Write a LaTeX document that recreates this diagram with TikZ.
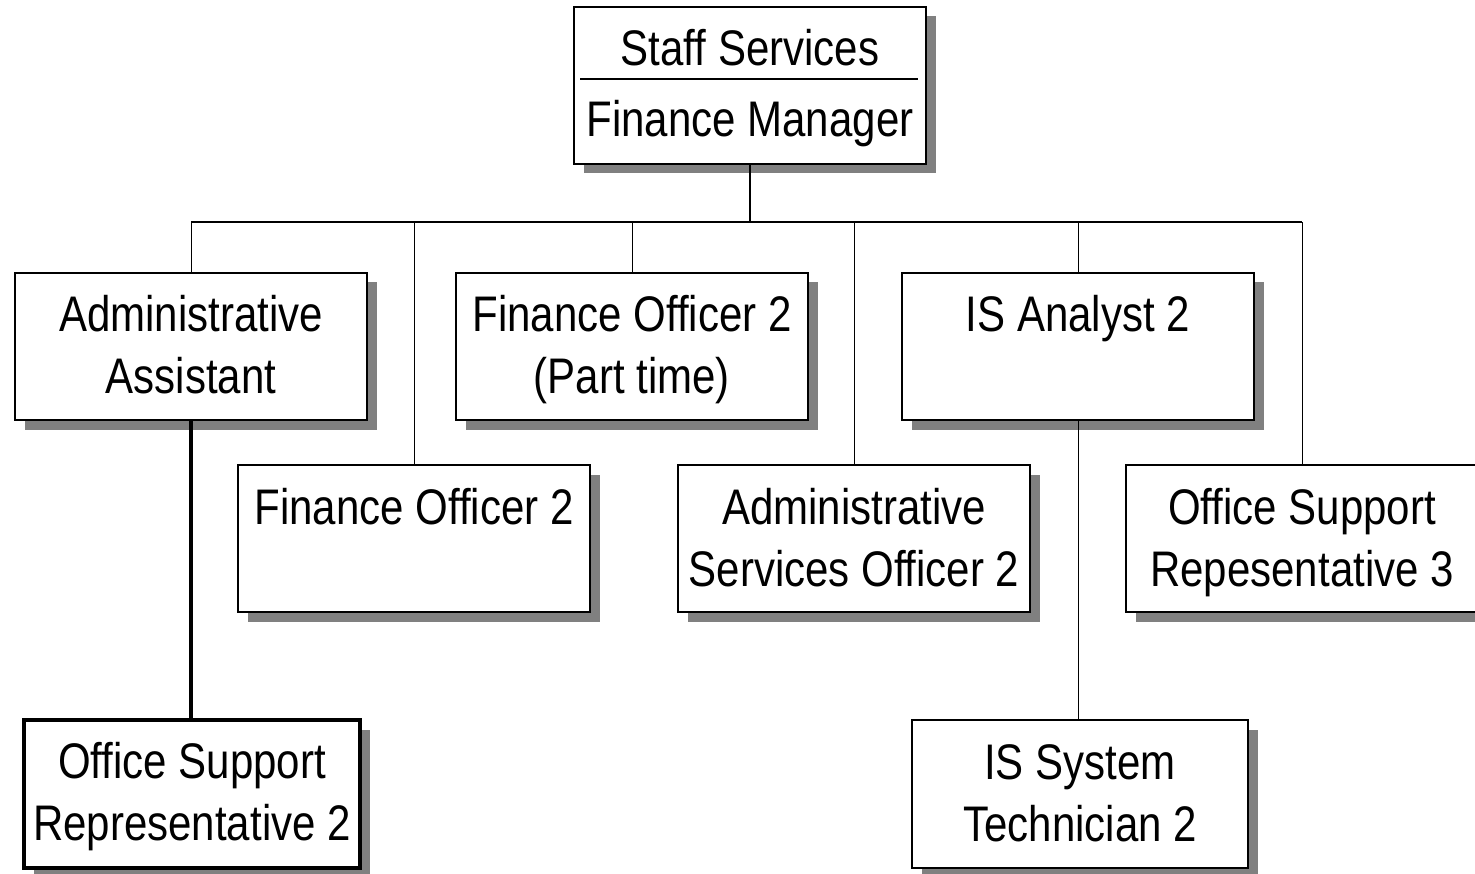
\documentclass[tikz,border=0pt]{standalone}
\usepackage{fontspec}
\setmainfont{Liberation Sans}[FakeStretch=0.84]
\usetikzlibrary{shadows}
\tikzset{
  box/.style={draw, line width=2pt, fill=white, rectangle, inner sep=0pt,
    minimum width=352pt, minimum height=147pt,
    drop shadow={shadow xshift=9.5pt, shadow yshift=-9.5pt, fill=black!50, opacity=1}},
  smallbox/.style={box, minimum width=336pt, minimum height=148pt},
  heavybox/.style={smallbox, line width=4pt},
  lbl/.style={anchor=base, inner sep=0pt, font=\fontsize{50pt}{60pt}\selectfont},
  stem/.style={line width=1.6pt},
  drop/.style={line width=1pt},
  heavy/.style={line width=4.5pt}
}
\begin{document}
\begin{tikzpicture}[x=1pt, y=-1pt]
\useasboundingbox (0,0) rectangle (1475,874);
% boxes
\node[box, minimum height=157pt] (top) at (750,85.5) {};
\node[box] (aa)   at (191,346.5) {};
\node[box] (fopt) at (632,346.5) {};
\node[box] (isa)  at (1078,346.5) {};
\node[box] (fo)   at (414,538.5) {};
\node[box] (aso)  at (854,538.5) {};
\node[box] (osrt) at (1302,538.5) {};
\node[heavybox] (osrs) at (192,794) {};
\node[smallbox] (ist)  at (1080,794) {};
% texts
\node[lbl] (top1) at ([yshift=-60pt]top.north) {Staff Services};
\draw[line width=2pt] ([xshift=7pt,yshift=-73.5pt]top.north west) coordinate (divl)
   -- ([xshift=-9pt,yshift=-73.5pt]top.north east) coordinate (divr);
\node[lbl] (top2) at ([yshift=-131pt]top.north) {Finance Manager};
\node[lbl] (aa1) at ([yshift=-60pt]aa.north) {Administrative};
\node[lbl] (aa2) at ([yshift=-122pt]aa.north) {Assistant};
\node[lbl] (fopt1) at ([yshift=-60pt]fopt.north) {Finance Officer 2};
\node[lbl] (fopt2) at ([yshift=-122pt]fopt.north) {(Part time)};
\node[lbl] (isa1) at ([yshift=-60pt]isa.north) {IS Analyst 2};
\node[lbl] (fo1) at ([yshift=-60pt]fo.north) {Finance Officer 2};
\node[lbl] (aso1) at ([yshift=-60pt]aso.north) {Administrative};
\node[lbl] (aso2) at ([yshift=-122pt]aso.north) {Services Officer 2};
\node[lbl] (osrt1) at ([yshift=-60pt]osrt.north) {Office Support};
\node[lbl] (osrt2) at ([yshift=-122pt]osrt.north) {Repesentative 3};
\node[lbl] (osrs1) at ([yshift=-60pt]osrs.north) {Office Support};
\node[lbl] (osrs2) at ([yshift=-122pt]osrs.north) {Representative 2};
\node[lbl] (ist1) at ([yshift=-60pt]ist.north) {IS System};
\node[lbl] (ist2) at ([yshift=-122pt]ist.north) {Technician 2};
% connectors
\coordinate (bus) at (750,222);
\draw[stem] (top.south) -- (bus);
\draw[stem] (aa.north |- bus) -- (osrt.north |- bus);
\draw[drop] (aa.north) -- (aa.north |- bus);
\draw[drop] (fo.north) -- (fo.north |- bus);
\draw[drop] (fopt.north) -- (fopt.north |- bus);
\draw[drop] (aso.north) -- (aso.north |- bus);
\draw[drop] (isa.north) -- (isa.north |- bus);
\draw[drop] (osrt.north) -- (osrt.north |- bus);
\draw[drop] (isa.south) -- (isa.south |- ist.north);
\draw[heavy] (aa.south) -- (aa.south |- osrs.north);
\end{tikzpicture}
\end{document}
